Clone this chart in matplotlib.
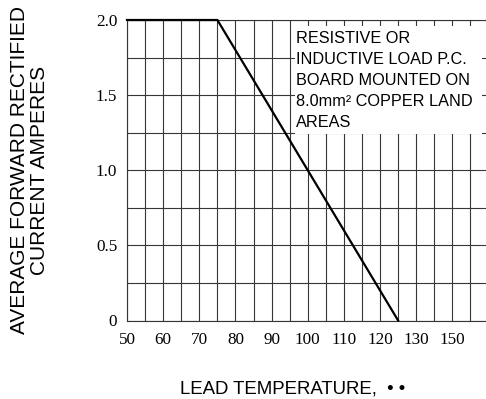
import numpy as np
import matplotlib
matplotlib.use('Agg')
import matplotlib.pyplot as plt
from matplotlib.patches import Rectangle

# derating curve
temps = [50, 75, 125]
current = [2.0, 2.0, 0.0]

xticks = [50, 60, 70, 80, 90, 100, 110, 120, 130, 140]
xticklabels = ['50', '60', '70', '80', '90', '100', '110', '120', '130', '150']
xminor = [55, 65, 75, 85, 95, 105, 115, 125, 135, 145, 150]
yticks = [0, 0.5, 1.0, 1.5, 2.0]
yticklabels = ['0', '0.5', '1.0', '1.5', '2.0']
yminor = [0.25, 0.75, 1.25, 1.75]

note_lines = ['RESISTIVE OR', 'INDUCTIVE LOAD P.C.', 'BOARD MOUNTED ON',
              '8.0mm\u00b2 COPPER LAND', 'AREAS']

W, H = 486, 399
fig = plt.figure(figsize=(W / 100, H / 100), dpi=100)
# axes box in pixels: left 127, right 488.5 (just off the picture), top 20, bottom 320.5
ax = fig.add_axes([127 / W, (H - 320.5) / H, (488.5 - 127) / W, (320.5 - 20) / H])

gcol = '#363636'
ax.set_xlim(50, 150)
ax.set_ylim(0, 2.0)
ax.set_xticks(xticks)
ax.set_xticklabels(xticklabels)
ax.set_xticks(xminor, minor=True)
ax.set_yticks(yticks)
ax.set_yticklabels(yticklabels)
ax.set_yticks(yminor, minor=True)
ax.grid(True, which='both', color=gcol, linewidth=0.8)
ax.set_axisbelow(True)
ax.tick_params(which='both', length=0)
ax.tick_params(axis='x', pad=8)
ax.tick_params(axis='y', pad=7)
for lab in ax.get_xticklabels() + ax.get_yticklabels():
    lab.set_fontfamily('Liberation Serif')
    lab.set_fontsize(12.3)
for s in ax.spines.values():
    s.set_color(gcol)
    s.set_linewidth(0.8)

ax.plot(temps, current, color='black', linewidth=1.6, clip_on=False, zorder=5)

# white panel behind the note (covers the grid)
ax.add_patch(Rectangle((96.5, 1.243), 148.1 - 96.5, 1.958 - 1.243,
                       facecolor='white', edgecolor='none', zorder=3))
for i, line in enumerate(note_lines):
    fig.text(296 / W, (H - (42.7 + 21 * i)) / H, line, fontfamily='Liberation Sans',
             fontsize=11.7, ha='left', va='baseline', zorder=6)

fig.text(19.5 / W, (H - 170) / H, 'AVERAGE FORWARD RECTIFIED', rotation=90,
         fontfamily='Liberation Sans', fontsize=15, ha='center', va='center')
fig.text(39.5 / W, (H - 170) / H, 'CURRENT AMPERES', rotation=90,
         fontfamily='Liberation Sans', fontsize=15, ha='center', va='center')
fig.text(292.5 / W, (H - 393.3) / H, 'LEAD TEMPERATURE,  \u2022 \u2022',
         fontfamily='Liberation Sans', fontsize=13.4, ha='center', va='baseline')

fig.savefig('out.png', dpi=100)
